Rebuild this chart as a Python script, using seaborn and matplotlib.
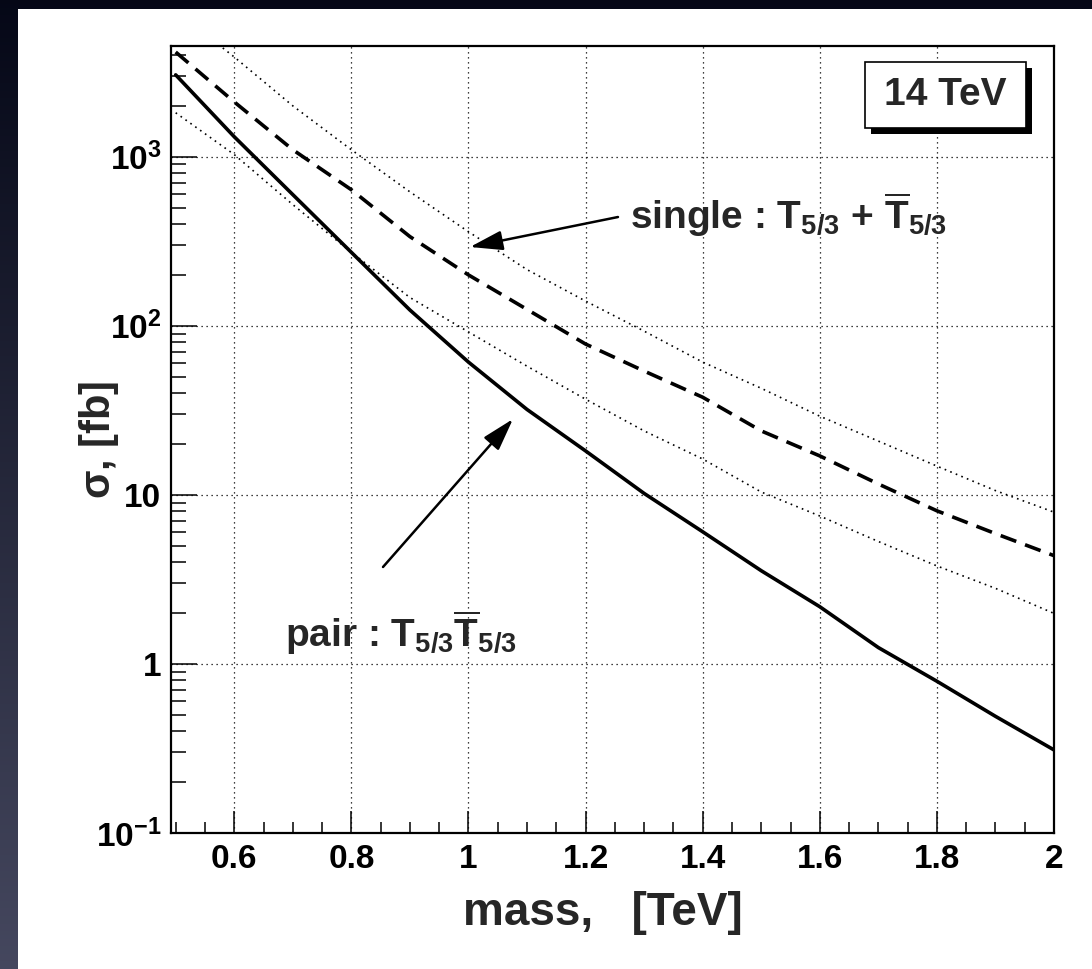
import numpy as np
import matplotlib
matplotlib.use("Agg")
import matplotlib.pyplot as plt
from matplotlib.patches import Rectangle
from matplotlib.ticker import FixedLocator, NullFormatter
import seaborn as sns
import pandas as pd

sns.set_style("white")
plt.rcParams['font.family'] = ['Liberation Sans', 'DejaVu Sans']
plt.rcParams['font.weight'] = 'bold'
plt.rcParams['mathtext.fontset'] = 'custom'
plt.rcParams['mathtext.rm'] = 'Liberation Sans'
plt.rcParams['mathtext.bf'] = 'Liberation Sans:bold'
plt.rcParams['mathtext.it'] = 'Liberation Sans:italic'

# cross sections, in fb
mass = [0.5, 0.6, 0.7, 0.8, 0.9, 1.0, 1.1, 1.2, 1.3, 1.4, 1.5, 1.6, 1.7, 1.8, 1.9, 2.0]
sigma_pair = [3050, 1313, 597, 272, 124, 61, 32, 18.2, 10.2, 6.05, 3.56, 2.18, 1.25, 0.79, 0.49, 0.31]
sigma_single = [4160, 2110, 1100, 638, 337, 200, 125, 78, 54, 37.8, 23.9, 17.0, 11.6, 8.05, 5.9, 4.37]
sigma_single_up = [7300, 3890, 2000, 1100, 620, 360, 215, 140, 93, 61, 42.7, 29.2, 20.8, 14.8, 10.6, 7.9]
sigma_single_down = [1820, 1030, 521, 272, 147, 92, 57.7, 36.8, 23.9, 16.3, 10.4, 7.5, 5.3, 3.8, 2.8, 1.99]

xticks = [0.6, 0.8, 1.0, 1.2, 1.4, 1.6, 1.8, 2.0]
xtick_labels = ["0.6", "0.8", "1", "1.2", "1.4", "1.6", "1.8", "2"]
yticks = [0.1, 1, 10, 100, 1000]
ytick_labels = [r"10$^{\mathbf{-1}}$", "1", "10", r"10$^{\mathbf{2}}$", r"10$^{\mathbf{3}}$"]

W, H = 1092, 969
fig = plt.figure(figsize=(W / 100, H / 100), dpi=100)

# dark slide background with white panel
bg = fig.add_axes([0, 0, 1, 1], zorder=-10)
top_c = np.array([0.02, 0.03, 0.09])
bot_c = np.array([0.27, 0.28, 0.37])
t = np.linspace(0, 1, 256)[:, None, None]
grad = top_c * (1 - t) + bot_c * t
bg.imshow(grad, extent=[0, W, H, 0], aspect='auto')
bg.add_patch(Rectangle((18, 9), W - 18, H - 9, facecolor='white', edgecolor='none'))
bg.set_xlim(0, W)
bg.set_ylim(H, 0)
bg.axis('off')

ax = fig.add_axes([171 / W, 1 - 833 / H, (1054 - 171) / W, (833 - 46) / H])
ax.set_facecolor('white')

df = pd.DataFrame({'mass': mass, 'pair': sigma_pair, 'single': sigma_single,
                   'up': sigma_single_up, 'down': sigma_single_down})

dot = (0, (1, 2.6))
sns.lineplot(data=df, x='mass', y='up', ax=ax, color='black', lw=1.2, linestyle=dot)
sns.lineplot(data=df, x='mass', y='down', ax=ax, color='black', lw=1.2, linestyle=dot)
sns.lineplot(data=df, x='mass', y='single', ax=ax, color='black', lw=2.6, linestyle=(0, (4.6, 2.6)))
sns.lineplot(data=df, x='mass', y='pair', ax=ax, color='black', lw=2.6)

ax.set_yscale('log')
ax.set_xlim(0.492, 2.0)
ax.set_ylim(0.1, 10 ** 3.655)

ax.set_xticks(xticks)
ax.set_xticklabels(xtick_labels)
ax.xaxis.set_minor_locator(FixedLocator(np.arange(0.5, 2.0, 0.05)))
ax.set_yticks(yticks)
ax.set_yticklabels(ytick_labels)
ax.yaxis.set_minor_locator(FixedLocator([m * 10.0 ** e for e in range(-1, 4) for m in range(2, 10)]))
ax.yaxis.set_minor_formatter(NullFormatter())

ax.tick_params(axis='both', which='both', direction='in', top=False, right=False,
               bottom=True, left=True, width=1.1, colors='black')
ax.tick_params(axis='x', which='major', length=16, pad=8, labelsize=24)
ax.tick_params(axis='x', which='minor', length=8)
ax.tick_params(axis='y', which='major', length=19, pad=7, labelsize=24)
ax.tick_params(axis='y', which='minor', length=11)

for s in ax.spines.values():
    s.set_color('black')
    s.set_linewidth(1.6)

# dotted grid at the major ticks
for xv in xticks[:-1]:
    ax.axvline(xv, color='black', lw=0.9, linestyle=(0, (1, 3)), zorder=0.5)
for yv in yticks[1:]:
    ax.axhline(yv, color='black', lw=0.9, linestyle=(0, (1, 3)), zorder=0.5)

ax.set_xlabel("mass,   [TeV]", fontsize=33, fontweight='bold')
ax.xaxis.set_label_coords(0.489, -0.074)
ax.set_ylabel("")
ax.text(-0.082, 0.5, r"$\mathrm{\sigma}$, [fb]", transform=ax.transAxes, rotation=90,
        ha='center', va='center', fontsize=30, fontweight='bold')

# 14 TeV box with shadow
x0, x1 = (865 - 171) / 883, (1026 - 171) / 883
y1, y0 = 1 - (62 - 46) / 787, 1 - (128 - 46) / 787
ax.add_patch(Rectangle((x0 + 0.007, y0 - 0.008), x1 - x0, y1 - y0, transform=ax.transAxes,
                       facecolor='black', edgecolor='none', zorder=5, clip_on=False))
ax.add_patch(Rectangle((x0, y0), x1 - x0, y1 - y0, transform=ax.transAxes,
                       facecolor='white', edgecolor='black', lw=1.2, zorder=6, clip_on=False))
ax.text((x0 + x1) / 2, (y0 + y1) / 2, "14 TeV", transform=ax.transAxes, ha='center', va='center',
        fontsize=28, fontweight='bold', zorder=7)

# labels and arrows
ax.text(0.5198, 0.7675, r"single : T$_{\mathbf{5/3}}$ + $\overline{\mathbf{T}}_{\mathbf{5/3}}$",
        transform=ax.transAxes, ha='left', va='baseline', fontsize=28, fontweight='bold')
ax.text(0.129, 0.2363, r"pair : T$_{\mathbf{5/3}}\overline{\mathbf{T}}_{\mathbf{5/3}}$",
        transform=ax.transAxes, ha='left', va='baseline', fontsize=28, fontweight='bold')

arrow = dict(arrowstyle='-|>,head_length=1.0,head_width=0.3', color='black', lw=1.8,
             mutation_scale=20, shrinkA=0, shrinkB=0)
ax.annotate("", xy=(0.3386, 0.7446), xytext=(0.5062, 0.7827),
            xycoords='axes fraction', textcoords='axes fraction', arrowprops=arrow)
ax.annotate("", xy=(0.3873, 0.526), xytext=(0.2401, 0.338),
            xycoords='axes fraction', textcoords='axes fraction', arrowprops=arrow)

fig.savefig("out.png", dpi=100)
